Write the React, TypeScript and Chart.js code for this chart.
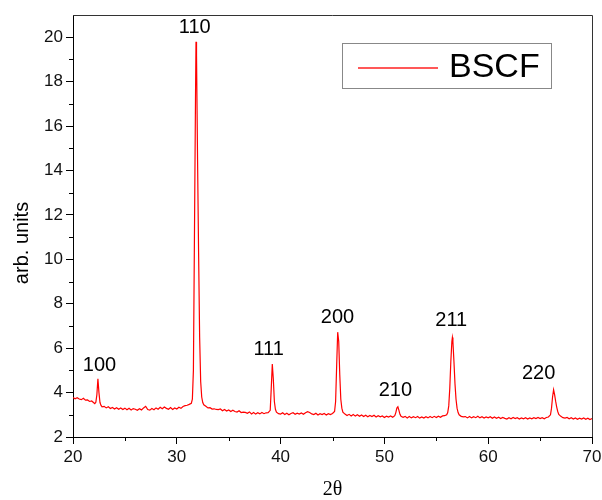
import { useEffect, useRef } from 'react';
import { Chart, registerables } from 'chart.js';

Chart.register(...registerables);

// XRD pattern (2θ in degrees, intensity in arb. units)
const twoTheta = [
  20.0, 20.2, 20.4, 20.6, 20.8, 21.0, 21.2, 21.4, 21.6, 21.8, 22.0, 22.1, 22.2, 22.3, 22.4, 22.5, 22.6, 22.7, 22.8,
  23.0, 23.2, 23.4, 23.6, 23.8, 24.0, 24.2, 24.4, 24.6, 24.8, 25.0, 25.2, 25.4, 25.6, 25.8, 26.0, 26.2, 26.4, 26.6,
  26.8, 27.0, 27.2, 27.4, 27.6, 27.8, 28.0, 28.2, 28.4, 28.6, 28.8, 29.0, 29.2, 29.4, 29.6, 29.8, 30.0, 30.2, 30.4,
  30.6, 30.8, 31.0, 31.2, 31.4, 31.5, 31.6, 31.7, 31.8, 31.85, 31.9, 32.0, 32.1, 32.2, 32.3, 32.4, 32.5, 32.6, 32.8,
  33.0, 33.2, 33.4, 33.6, 33.8, 34.0, 34.2, 34.4, 34.6, 34.8, 35.0, 35.2, 35.4, 35.6, 35.8, 36.0, 36.2, 36.4, 36.6,
  36.8, 37.0, 37.2, 37.4, 37.6, 37.8, 38.0, 38.2, 38.4, 38.6, 38.8, 39.0, 39.1, 39.2, 39.3, 39.4, 39.5, 39.6, 39.8,
  40.0, 40.2, 40.4, 40.6, 40.8, 41.0, 41.2, 41.4, 41.6, 41.8, 42.0, 42.2, 42.4, 42.6, 42.8, 43.0, 43.2, 43.4, 43.6,
  43.8, 44.0, 44.2, 44.4, 44.6, 44.8, 45.0, 45.2, 45.3, 45.4, 45.5, 45.6, 45.7, 45.8, 45.9, 46.0, 46.2, 46.4, 46.6,
  46.8, 47.0, 47.2, 47.4, 47.6, 47.8, 48.0, 48.2, 48.4, 48.6, 48.8, 49.0, 49.2, 49.4, 49.6, 49.8, 50.0, 50.2, 50.4,
  50.6, 50.8, 51.0, 51.1, 51.2, 51.3, 51.4, 51.5, 51.6, 51.8, 52.0, 52.2, 52.4, 52.6, 52.8, 53.0, 53.2, 53.4, 53.6,
  53.8, 54.0, 54.2, 54.4, 54.6, 54.8, 55.0, 55.2, 55.4, 55.6, 55.8, 56.0, 56.1, 56.2, 56.3, 56.4, 56.5, 56.55, 56.6,
  56.7, 56.8, 56.9, 57.0, 57.1, 57.2, 57.4, 57.6, 57.8, 58.0, 58.2, 58.4, 58.6, 58.8, 59.0, 59.2, 59.4, 59.6, 59.8,
  60.0, 60.2, 60.4, 60.6, 60.8, 61.0, 61.2, 61.4, 61.6, 61.8, 62.0, 62.2, 62.4, 62.6, 62.8, 63.0, 63.2, 63.4, 63.6,
  63.8, 64.0, 64.2, 64.4, 64.6, 64.8, 65.0, 65.2, 65.4, 65.6, 65.8, 66.0, 66.1, 66.2, 66.3, 66.4, 66.5, 66.6, 66.7,
  66.8, 67.0, 67.2, 67.4, 67.6, 67.8, 68.0, 68.2, 68.4, 68.6, 68.8, 69.0, 69.2, 69.4, 69.6, 69.8, 70.0,
];

const intensity = [
  3.78, 3.72, 3.77, 3.71, 3.68, 3.74, 3.66, 3.67, 3.60, 3.62, 3.54, 3.50, 3.56, 3.90, 4.62, 4.00, 3.55, 3.42, 3.36,
  3.38, 3.31, 3.36, 3.28, 3.33, 3.26, 3.32, 3.25, 3.31, 3.24, 3.30, 3.23, 3.29, 3.22, 3.28, 3.25, 3.20, 3.27, 3.22,
  3.31, 3.38, 3.24, 3.21, 3.28, 3.23, 3.31, 3.25, 3.34, 3.27, 3.35, 3.29, 3.25, 3.33, 3.24, 3.31, 3.26, 3.34, 3.29,
  3.37, 3.41, 3.43, 3.47, 3.52, 3.70, 5.00, 11.0, 17.2, 19.8, 19.2, 14.5, 10.3, 6.50, 4.50, 3.80, 3.55, 3.45, 3.38,
  3.31, 3.32, 3.26, 3.27, 3.24, 3.23, 3.26, 3.18, 3.24, 3.17, 3.22, 3.15, 3.21, 3.15, 3.12, 3.18, 3.10, 3.12, 3.11,
  3.07, 3.13, 3.04, 3.10, 3.03, 3.09, 3.04, 3.10, 3.05, 3.09, 3.10, 3.20, 4.20, 5.28, 4.60, 3.60, 3.25, 3.12, 3.05,
  3.03, 3.09, 3.01, 3.07, 3.00, 3.06, 3.09, 3.02, 3.07, 3.03, 3.08, 3.02, 3.09, 3.14, 3.10, 3.04, 3.01, 3.07, 2.99,
  3.05, 3.01, 3.06, 2.99, 3.05, 3.01, 3.06, 3.15, 3.60, 5.20, 6.72, 6.30, 4.80, 3.70, 3.30, 3.12, 3.03, 2.97, 3.02,
  2.95, 3.01, 2.94, 3.00, 2.93, 2.99, 2.92, 2.98, 2.91, 2.97, 2.92, 2.98, 2.90, 2.96, 2.91, 2.95, 2.88, 2.94, 2.90,
  2.95, 2.89, 2.96, 3.10, 3.30, 3.36, 3.20, 3.02, 2.93, 2.89, 2.93, 2.86, 2.92, 2.86, 2.91, 2.87, 2.92, 2.85, 2.90,
  2.85, 2.91, 2.86, 2.92, 2.87, 2.93, 2.88, 2.94, 2.89, 2.95, 2.96, 3.00, 3.10, 3.40, 4.20, 5.40, 6.30, 6.48, 6.30,
  5.40, 4.40, 3.70, 3.30, 3.10, 3.00, 2.93, 2.91, 2.92, 2.86, 2.92, 2.86, 2.91, 2.87, 2.93, 2.86, 2.91, 2.85, 2.90,
  2.86, 2.91, 2.84, 2.90, 2.84, 2.89, 2.83, 2.88, 2.84, 2.81, 2.87, 2.82, 2.88, 2.83, 2.87, 2.81, 2.86, 2.82, 2.87,
  2.81, 2.86, 2.82, 2.87, 2.83, 2.88, 2.83, 2.87, 2.82, 2.88, 2.90, 3.00, 3.30, 3.80, 4.13, 3.90, 3.60, 3.35, 3.15,
  3.02, 2.93, 2.87, 2.85, 2.88, 2.82, 2.87, 2.81, 2.86, 2.80, 2.85, 2.81, 2.86, 2.80, 2.85, 2.79, 2.83,
];

const seriesName = 'BSCF';

// Peak (hkl) annotations: text, and the anchor in data coordinates
const peakLabels = ['100', '110', '111', '200', '210', '211', '220'];
const labelAngles = [22.55, 31.73, 38.85, 45.48, 51.06, 56.44, 64.86];
const labelLevels = [5.24, 20.45, 5.92, 7.36, 4.09, 7.25, 4.88];

const xMajorTicks = [20, 30, 40, 50, 60, 70];
const xMinorTicks = [25, 35, 45, 55, 65];
const yMajorTicks = [2, 4, 6, 8, 10, 12, 14, 16, 18, 20];
const yMinorTicks = [3, 5, 7, 9, 11, 13, 15, 17, 19];

const xTitle = '2θ';
const yTitle = 'arb. units';

const SANS = '"Liberation Sans", Arial, sans-serif';
const SERIF = '"Liberation Serif", "Times New Roman", serif';

const decorPlugin = {
  id: 'decor',
  afterDraw(chart: any) {
    const { ctx, chartArea, scales } = chart;
    const xs = scales.x;
    const ys = scales.y;
    const { left, right, top, bottom } = chartArea;
    ctx.save();

    // frame top/right
    ctx.strokeStyle = '#333';
    ctx.lineWidth = 1;
    ctx.beginPath();
    ctx.moveTo(left, top + 0.5);
    ctx.lineTo(right + 0.5, top + 0.5);
    ctx.lineTo(right + 0.5, bottom);
    ctx.stroke();

    // minor ticks
    ctx.strokeStyle = '#000';
    ctx.beginPath();
    xMinorTicks.forEach((v) => {
      const px = Math.round(xs.getPixelForValue(v)) + 0.5;
      ctx.moveTo(px, bottom);
      ctx.lineTo(px, bottom + 4);
    });
    yMinorTicks.forEach((v) => {
      const py = Math.round(ys.getPixelForValue(v)) + 0.5;
      ctx.moveTo(left, py);
      ctx.lineTo(left - 4, py);
    });
    ctx.stroke();

    // peak labels
    ctx.fillStyle = '#000';
    ctx.font = `20px ${SANS}`;
    ctx.textAlign = 'center';
    ctx.textBaseline = 'middle';
    peakLabels.forEach((t, i) => {
      ctx.fillText(t, xs.getPixelForValue(labelAngles[i]), ys.getPixelForValue(labelLevels[i]));
    });

    // axis titles
    ctx.font = `20px ${SERIF}`;
    ctx.fillText(xTitle, (left + right) / 2, 490);
    ctx.save();
    ctx.translate(22, (top + bottom) / 2 + 17);
    ctx.rotate(-Math.PI / 2);
    ctx.font = `20px ${SANS}`;
    ctx.fillText(yTitle, 0, 0);
    ctx.restore();

    // legend
    const bx = right - 250;
    const by = top + 28;
    const bw = 209;
    const bh = 45;
    ctx.strokeStyle = '#888';
    ctx.lineWidth = 1;
    ctx.strokeRect(bx + 0.5, by + 0.5, bw, bh);
    ctx.strokeStyle = '#ff2020';
    ctx.lineWidth = 1.5;
    ctx.beginPath();
    ctx.moveTo(bx + 16, by + 25);
    ctx.lineTo(bx + 96, by + 25);
    ctx.stroke();
    ctx.fillStyle = '#000';
    ctx.font = `34px ${SANS}`;
    ctx.textAlign = 'left';
    ctx.fillText(seriesName, bx + 107, by + 25);

    ctx.restore();
  },
};

export default function App() {
  const ref = useRef<HTMLCanvasElement | null>(null);

  useEffect(() => {
    if (!ref.current) return;
    const points = twoTheta.map((x, i) => ({ x, y: intensity[i] }));
    const chart = new Chart(ref.current, {
      type: 'scatter',
      data: {
        datasets: [
          {
            label: seriesName,
            data: points,
            showLine: true,
            borderColor: '#ff0000',
            borderWidth: 1.2,
            pointRadius: 0,
            pointHoverRadius: 0,
            tension: 0,
          },
        ],
      },
      options: {
        animation: false,
        responsive: false,
        devicePixelRatio: 1,
        layout: { padding: { left: 0, right: 10, top: 15, bottom: 0 } },
        plugins: {
          legend: { display: false },
          tooltip: { enabled: false },
        },
        scales: {
          x: {
            type: 'linear',
            min: 20,
            max: 70,
            afterBuildTicks: (s: any) => {
              s.ticks = xMajorTicks.map((v) => ({ value: v }));
            },
            afterFit: (s: any) => {
              s.height = 63;
              s.paddingLeft = 0;
              s.paddingRight = 0;
            },
            grid: {
              drawOnChartArea: false,
              drawTicks: true,
              tickLength: 7,
              tickColor: '#000',
            },
            border: { display: true, color: '#000', width: 1 },
            ticks: {
              color: '#111',
              font: { family: SANS, size: 17 },
              padding: 3,
              maxRotation: 0,
              autoSkip: false,
            },
          },
          y: {
            type: 'linear',
            min: 2,
            max: 21,
            afterBuildTicks: (s: any) => {
              s.ticks = yMajorTicks.map((v) => ({ value: v }));
            },
            afterFit: (s: any) => {
              s.width = 73;
              s.paddingTop = 0;
              s.paddingBottom = 0;
            },
            grid: {
              drawOnChartArea: false,
              drawTicks: true,
              tickLength: 7,
              tickColor: '#000',
            },
            border: { display: true, color: '#000', width: 1 },
            ticks: {
              color: '#111',
              font: { family: SANS, size: 17 },
              padding: 3,
              autoSkip: false,
            },
          },
        },
      },
      plugins: [decorPlugin],
    });
    return () => chart.destroy();
  }, []);

  return (
    <div style={{ position: 'absolute', left: 0, top: 0, width: 602, height: 500, background: '#fff' }}>
      <canvas ref={ref} width={602} height={500} style={{ width: 602, height: 500 }} />
    </div>
  );
}
